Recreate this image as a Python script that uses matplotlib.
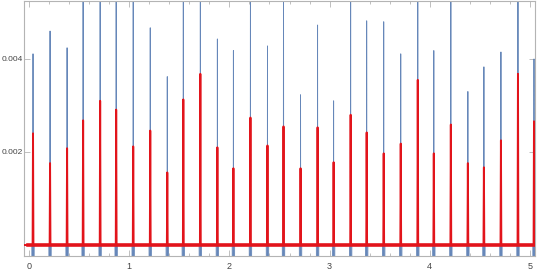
import matplotlib
matplotlib.use("Agg")
import matplotlib.pyplot as plt
from matplotlib.ticker import MultipleLocator, FixedLocator

plt.rcParams["font.family"] = ["Liberation Sans", "DejaVu Sans"]

# Spike times (s)
peak_times = [0.04, 0.21, 0.38, 0.54, 0.71, 0.87, 1.04, 1.21, 1.38, 1.54, 1.71,
              1.88, 2.04, 2.21, 2.38, 2.54, 2.71, 2.88, 3.04, 3.21, 3.37, 3.54,
              3.71, 3.88, 4.04, 4.21, 4.38, 4.54, 4.71, 4.88, 5.04]
# Blue series peak heights (values above 0.0052 are clipped by the frame)
blue_peaks = [0.00411, 0.00460, 0.00424, 0.0065, 0.0065, 0.0065, 0.0065, 0.00467,
              0.00362, 0.0065, 0.0065, 0.00443, 0.00418, 0.0065, 0.00428, 0.0065,
              0.00323, 0.00473, 0.00310, 0.0065, 0.00482, 0.00480, 0.00411, 0.0065,
              0.00418, 0.0065, 0.00330, 0.00383, 0.00415, 0.0065, 0.0040]
blue_dip = -0.001
# Red series peak heights
red_peaks = [0.00240, 0.00176, 0.00208, 0.00268, 0.00310, 0.00291, 0.00212, 0.00246,
             0.00156, 0.00313, 0.00368, 0.00210, 0.00165, 0.00274, 0.00214, 0.00255,
             0.00165, 0.00253, 0.00178, 0.00280, 0.00242, 0.00197, 0.00218, 0.00355,
             0.00197, 0.00259, 0.00176, 0.00167, 0.00225, 0.00368, 0.00266]

x_ticks = [0, 1, 2, 3, 4, 5]
y_ticks = [0.002, 0.004]
y_tick_labels = ["0.002", "0.004"]

BLUE = "#5E81B5"
RED = "#E2141B"
FRAME = "#B4B4B4"

# build traces from peak lists
bx, by = [-0.1], [0.0]
for t, h in zip(peak_times, blue_peaks):
    bx += [t - 0.012, t - 0.010, t - 0.002, t, t + 0.002, t + 0.010, t + 0.012]
    by += [0.0, blue_dip, blue_dip, h, blue_dip, blue_dip, 0.0]
bx.append(5.2); by.append(0.0)

rx, ry = [-0.1], [0.0]
for t, h in zip(peak_times, red_peaks):
    rx += [t - 0.004, t, t + 0.004]
    ry += [0.0, h, 0.0]
rx.append(5.2); ry.append(0.0)

fig = plt.figure(figsize=(5.4, 2.72), dpi=100)
ax = fig.add_axes([24 / 540, 16 / 272, (535 - 24) / 540, (256 - 1) / 272])

ax.plot(bx, by, color=BLUE, lw=0.65, alpha=0.95)
ax.axhline(0.0, xmin=0.008, xmax=0.998, color=RED, lw=2.6, zorder=3)
ax.plot(rx, ry, color=RED, lw=1.4, zorder=4)

ax.set_xlim(-0.05, 5.05)
ax.set_ylim(-0.000236, 0.005246)

ax.xaxis.set_major_locator(FixedLocator(x_ticks))
ax.xaxis.set_minor_locator(MultipleLocator(0.2))
ax.yaxis.set_major_locator(FixedLocator(y_ticks))
ax.set_yticklabels(y_tick_labels)
ax.set_xticklabels([str(v) for v in x_ticks])

ax.tick_params(which="both", direction="in", top=True, right=True,
               color=FRAME, labelcolor="#444444", labelsize=6, width=0.6)
ax.tick_params(which="major", length=4)
ax.tick_params(axis="y", which="major", pad=1)
ax.tick_params(axis="x", which="major", pad=4, labelsize=6.5)
ax.tick_params(which="minor", length=2)
for s in ax.spines.values():
    s.set_color(FRAME)
    s.set_linewidth(0.8)

fig.savefig("out.png", dpi=100)
